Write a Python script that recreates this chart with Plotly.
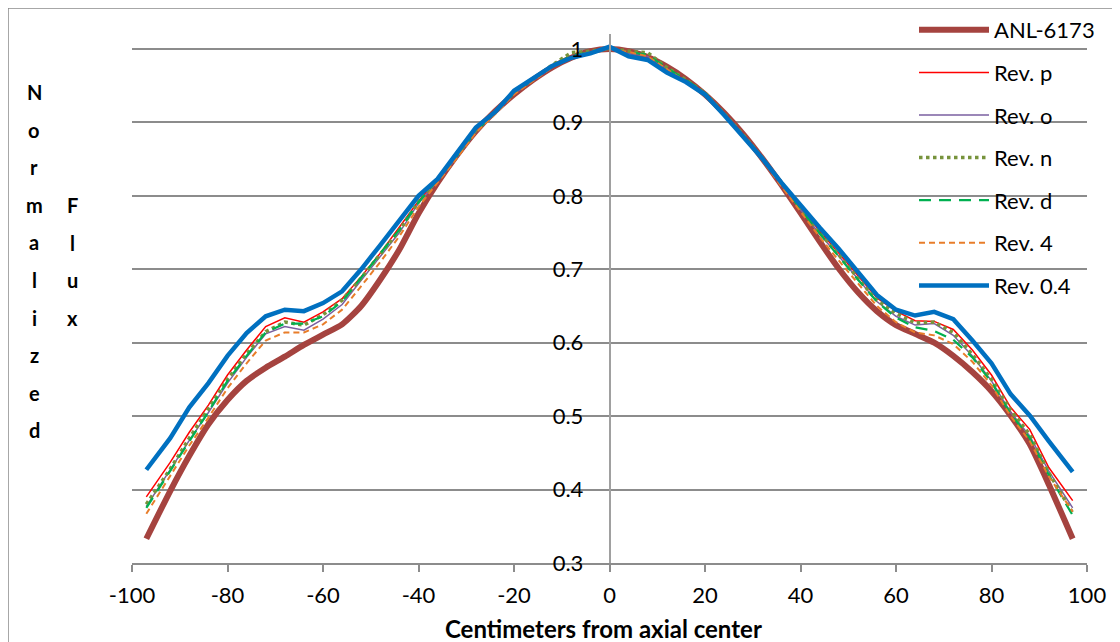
import plotly.graph_objects as go

# ---------------- data ----------------
X_CM = [-97, -92, -88, -84, -80, -76, -72, -68, -64, -60, -56, -52, -48, -44, -40, -36, -32, -28, -24, -20,
        -16, -12, -8, -4, 0, 4, 8, 12, 16, 20, 24, 28, 32, 36, 40, 44, 48, 52, 56, 60, 64, 68, 72, 76, 80,
        84, 88, 92, 97]

ANL_6173 = [0.333, 0.398, 0.446, 0.489, 0.522, 0.548, 0.566, 0.581, 0.597, 0.611, 0.625, 0.650, 0.686, 0.727,
            0.776, 0.818, 0.855, 0.888, 0.915, 0.938, 0.958, 0.975, 0.988, 0.997, 1.000, 0.997, 0.989, 0.976,
            0.959, 0.938, 0.913, 0.884, 0.851, 0.815, 0.777, 0.738, 0.701, 0.669, 0.643, 0.624, 0.612, 0.600,
            0.582, 0.560, 0.534, 0.501, 0.462, 0.407, 0.333]

REV_P = [0.390, 0.437, 0.478, 0.515, 0.556, 0.590, 0.622, 0.634, 0.628, 0.642, 0.660, 0.690, 0.722, 0.757,
         0.793, 0.823, 0.853, 0.888, 0.913, 0.940, 0.958, 0.976, 0.990, 0.996, 1.001, 0.995, 0.991, 0.972,
         0.957, 0.940, 0.912, 0.883, 0.853, 0.818, 0.785, 0.752, 0.722, 0.691, 0.661, 0.643, 0.630, 0.629,
         0.618, 0.590, 0.556, 0.512, 0.482, 0.430, 0.385]

REV_O = [0.377, 0.427, 0.467, 0.505, 0.545, 0.580, 0.612, 0.622, 0.617, 0.632, 0.652, 0.685, 0.717, 0.750,
         0.790, 0.820, 0.852, 0.887, 0.912, 0.939, 0.957, 0.975, 0.989, 0.996, 1.000, 0.994, 0.990, 0.973,
         0.957, 0.939, 0.911, 0.882, 0.851, 0.815, 0.781, 0.748, 0.718, 0.687, 0.656, 0.636, 0.624, 0.626,
         0.610, 0.582, 0.548, 0.505, 0.473, 0.425, 0.375]

REV_N = [0.380, 0.428, 0.470, 0.510, 0.550, 0.585, 0.615, 0.628, 0.624, 0.638, 0.658, 0.688, 0.720, 0.753,
         0.792, 0.823, 0.855, 0.889, 0.914, 0.941, 0.960, 0.978, 0.995, 0.997, 1.001, 0.997, 0.995, 0.975,
         0.958, 0.940, 0.912, 0.883, 0.852, 0.818, 0.783, 0.750, 0.720, 0.688, 0.658, 0.640, 0.627, 0.628,
         0.614, 0.584, 0.550, 0.508, 0.475, 0.423, 0.368]

REV_D = [0.375, 0.425, 0.466, 0.506, 0.548, 0.582, 0.614, 0.626, 0.626, 0.636, 0.656, 0.689, 0.721, 0.754,
         0.791, 0.822, 0.854, 0.888, 0.913, 0.940, 0.959, 0.977, 0.991, 0.996, 1.000, 0.996, 0.992, 0.974,
         0.958, 0.940, 0.911, 0.882, 0.852, 0.817, 0.782, 0.749, 0.717, 0.686, 0.656, 0.634, 0.621, 0.616,
         0.604, 0.580, 0.546, 0.503, 0.470, 0.420, 0.365]

REV_4 = [0.367, 0.418, 0.460, 0.498, 0.538, 0.572, 0.603, 0.614, 0.614, 0.625, 0.645, 0.677, 0.710, 0.745,
         0.785, 0.818, 0.851, 0.886, 0.911, 0.938, 0.957, 0.975, 0.989, 0.996, 1.000, 0.996, 0.990, 0.973,
         0.956, 0.938, 0.910, 0.880, 0.849, 0.813, 0.778, 0.744, 0.712, 0.681, 0.650, 0.628, 0.614, 0.610,
         0.598, 0.574, 0.542, 0.500, 0.466, 0.418, 0.370]

REV_04 = [0.427, 0.470, 0.512, 0.545, 0.582, 0.613, 0.636, 0.645, 0.643, 0.654, 0.670, 0.700, 0.733, 0.767,
          0.800, 0.823, 0.857, 0.893, 0.914, 0.943, 0.960, 0.977, 0.988, 0.994, 1.003, 0.990, 0.985, 0.968,
          0.955, 0.938, 0.910, 0.880, 0.851, 0.818, 0.787, 0.757, 0.728, 0.697, 0.665, 0.645, 0.637, 0.642,
          0.632, 0.603, 0.572, 0.530, 0.501, 0.466, 0.424]

SERIES_NAMES = ["ANL-6173", "Rev. p", "Rev. o", "Rev. n", "Rev. d", "Rev. 4", "Rev. 0.4"]
X_TICKS = [-100, -80, -60, -40, -20, 0, 20, 40, 60, 80, 100]
X_TICK_LABELS = ["-100", "-80", "-60", "-40", "-20", "0", "20", "40", "60", "80", "100"]
Y_TICKS = [0.3, 0.4, 0.5, 0.6, 0.7, 0.8, 0.9, 1.0]
Y_TICK_LABELS = ["0.3", "0.4", "0.5", "0.6", "0.7", "0.8", "0.9", "1"]
X_TITLE = "Centimeters from axial center"
Y_TITLE_COL1 = "Normalized"
Y_TITLE_COL2 = "Flux"

# ---------------- styling ----------------
OFF = 8  # default page margin of the html body
W, H = 1120 - OFF, 642 - OFF
ML, MR, MT, MB = 132 - OFF, 33, 34 - OFF, 79
PW, PH = W - ML - MR, H - MT - MB
FONT = "Lato, 'Open Sans', sans-serif"
GRID = "#8c8c8c"

styles = [
    dict(color="#A5433F", width=6, dash="solid", shape="spline"),
    dict(color="#FF0000", width=1.5, dash="solid", shape="linear"),
    dict(color="#7A5FA0", width=1.5, dash="solid", shape="linear"),
    dict(color="#77933C", width=3.5, dash="dot", shape="linear"),
    dict(color="#00B050", width=2.2, dash="12px,8px", shape="linear"),
    dict(color="#E87D2A", width=2, dash="6px,4px", shape="linear"),
    dict(color="#0070C0", width=4.5, dash="solid", shape="linear"),
]
series = [ANL_6173, REV_P, REV_O, REV_N, REV_D, REV_4, REV_04]

fig = go.Figure()
for i in range(len(series)):
    fig.add_trace(go.Scatter(
        x=X_CM, y=series[i], name=SERIES_NAMES[i], mode="lines",
        line=dict(color=styles[i]["color"], width=styles[i]["width"], dash=styles[i]["dash"],
                  shape=styles[i]["shape"], smoothing=0.6),
        legendgroup=SERIES_NAMES[i],
    ))


def px_x(p):
    """page pixel -> paper x"""
    return (p - OFF - ML) / PW


def px_y(p):
    """page pixel -> paper y"""
    return (H - MB - (p - OFF)) / PH


annotations = []
for k, ch in enumerate(Y_TITLE_COL1):
    annotations.append(dict(text="<b>%s</b>" % ch, x=px_x(34), y=px_y(92 + 37.6 * k), xref="paper", yref="paper",
                            showarrow=False, xanchor="center", yanchor="middle",
                            font=dict(family=FONT, size=20, color="black")))
for k, ch in enumerate(Y_TITLE_COL2):
    annotations.append(dict(text="<b>%s</b>" % ch, x=px_x(72), y=px_y(205 + 37.6 * k), xref="paper", yref="paper",
                            showarrow=False, xanchor="center", yanchor="middle",
                            font=dict(family=FONT, size=20, color="black")))
annotations.append(dict(text="<b>%s</b>" % X_TITLE, x=px_x(603), y=px_y(628), xref="paper", yref="paper",
                        showarrow=False, xanchor="center", yanchor="middle",
                        font=dict(family=FONT, size=24, color="black")))

fig.update_layout(
    width=W, height=H,
    margin=dict(l=ML, r=MR, t=MT, b=MB, pad=0, autoexpand=False),
    paper_bgcolor="white", plot_bgcolor="white",
    font=dict(family=FONT, size=22, color="black"),
    showlegend=True,
    legend=dict(x=px_x(914), y=px_y(9), xanchor="left", yanchor="top",
                bgcolor="rgba(0,0,0,0)", font=dict(family=FONT, size=22, color="black"),
                itemwidth=70, tracegroupgap=11, traceorder="grouped"),
    xaxis=dict(range=[-100, 100], tickvals=X_TICKS, ticktext=X_TICK_LABELS, showgrid=False, zeroline=False,
               showline=True, linecolor=GRID, linewidth=1.5, ticks="outside", ticklen=7,
               tickcolor=GRID, tickwidth=1.5, tickfont=dict(family=FONT, size=22, color="black"),
               ticklabelstandoff=5),
    yaxis=dict(range=[0.3, 1.0204], tickvals=Y_TICKS, ticktext=Y_TICK_LABELS, showgrid=True,
               gridcolor=GRID, gridwidth=1.5, zeroline=False, showline=True, linecolor="#a0a0a0",
               linewidth=1.5, anchor="free", position=0.5, ticks="outside", ticklen=21,
               tickcolor="rgba(0,0,0,0)",
               tickfont=dict(family=FONT, size=22, color="black")),
    annotations=annotations,
    shapes=[dict(type="rect", xref="paper", yref="paper",
                 x0=px_x(8), x1=px_x(1140), y0=px_y(680), y1=px_y(8),
                 line=dict(color="#8a8a8a", width=1.5), fillcolor="rgba(0,0,0,0)", layer="below")],
)

fig.write_html("out.html")
